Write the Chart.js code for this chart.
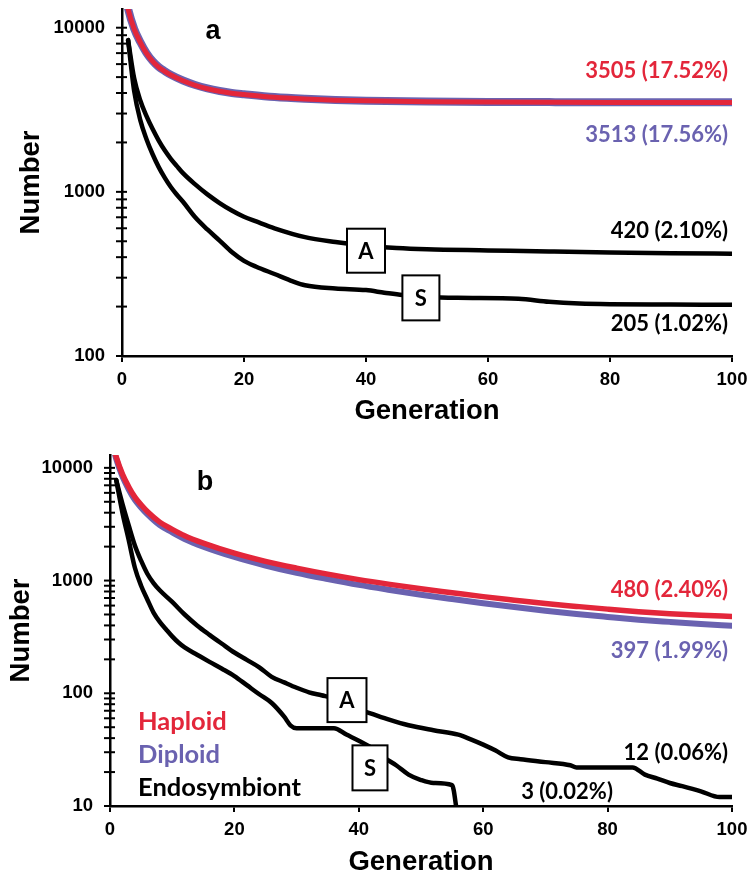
<!DOCTYPE html>
<html>
<head>
<meta charset="utf-8">
<script src="https://cdn.jsdelivr.net/npm/chart.js@4.4.1/dist/chart.umd.min.js"></script>
<style>
  html, body { margin: 0; padding: 0; background: #fff; }
  #wrap { position: relative; width: 749px; height: 876px; }
  .panel { position: absolute; left: 0; width: 749px; }
  #pa { top: 0; height: 436px; }
  #pb { top: 436px; height: 440px; }
</style>
</head>
<body>
<div id="wrap">
  <div class="panel" id="pa"><canvas id="chartA"></canvas></div>
  <div class="panel" id="pb"><canvas id="chartB"></canvas></div>
</div>
<script>
// Panel a
const genHapA = [0, 1, 2, 3, 4, 5, 6, 7, 8, 10, 12, 14, 16, 18, 20, 25, 30, 35, 40, 50, 60, 70, 80, 90, 100];
const haploidA = [20000, 13000, 9800, 8150, 7000, 6250, 5750, 5420, 5150, 4750, 4460, 4250, 4100, 3990, 3920, 3770, 3680, 3620, 3585, 3545, 3523, 3513, 3508, 3506, 3505];
const diploidA = [20000, 13050, 9840, 8180, 7025, 6272, 5770, 5438, 5167, 4765, 4474, 4263, 4112, 4001, 3931, 3780, 3690, 3629, 3594, 3554, 3531, 3521, 3516, 3514, 3513];

const genEndoA = [1, 2, 3, 4, 5, 6, 7, 8, 9, 10, 12, 14, 16, 18, 20, 22, 25, 30, 35, 40, 45, 50, 60, 70, 80, 90, 100];
const asexA = [8400, 4900, 3600, 2900, 2420, 2060, 1790, 1590, 1435, 1300, 1110, 965, 855, 770, 705, 660, 600, 530, 495, 470, 455, 447, 440, 433, 427, 423, 420];

const genSexA = [1, 2, 3, 4, 5, 6, 7, 8, 9, 10, 12, 14, 16, 18, 20, 22, 25, 28, 30, 35, 40, 43, 46, 50, 55, 65, 70, 75, 80, 90, 100];
const sexA = [8400, 4100, 2735, 2100, 1700, 1420, 1220, 1070, 960, 870, 700, 590, 505, 430, 380, 350, 316, 285, 270, 258, 252, 243, 235, 229, 226, 223, 214, 209, 207, 206, 205];

// Panel b
const genHapB = [0, 1, 2, 3, 4, 5, 6, 8, 10, 12, 15, 20, 25, 30, 35, 40, 45, 50, 55, 60, 65, 70, 75, 80, 85, 90, 95, 100];
const haploidB = [20000, 12500, 8800, 6800, 5500, 4700, 4100, 3300, 2850, 2500, 2150, 1750, 1480, 1290, 1140, 1020, 925, 845, 780, 720, 670, 625, 590, 558, 530, 508, 492, 480];
const diploidB = [20000, 12000, 8400, 6450, 5200, 4450, 3880, 3100, 2680, 2340, 2000, 1620, 1360, 1170, 1030, 915, 825, 748, 685, 630, 582, 540, 505, 476, 450, 430, 412, 397];

const genAsexB = [1, 2, 3, 4, 5, 6, 7, 8, 10, 12, 14, 16, 18, 20, 22, 24, 26, 28, 30, 32, 34, 36, 38, 40, 42, 45, 48, 52, 56, 58, 60, 62, 64, 66, 70, 74, 75, 84, 86, 88, 90, 92, 95, 98, 100];
const asexB = [7800, 4800, 3100, 2050, 1500, 1150, 950, 820, 647, 500, 400, 330, 275, 230, 198, 170, 140, 125, 112, 102, 96, 90, 80, 72, 66, 58, 52, 47, 43, 39, 35, 31, 27, 26, 24.5, 23, 22, 22, 19, 17.5, 16, 15, 13.5, 12, 12];

const genSexB = [1, 2, 3, 4, 5, 6, 7, 8, 9, 10, 11, 12, 14, 16, 18, 20, 22, 24, 26, 28, 29, 30, 36, 38, 40, 42, 44, 46, 48, 50, 52, 55, 56, 60, 70, 80, 90, 100];
const sexB = [7800, 4000, 2300, 1300, 900, 680, 520, 430, 370, 320, 282, 255, 220, 190, 165, 142, 118, 98, 82, 62, 52, 49, 49, 43, 38, 33, 27, 23, 19, 17, 16, 15.3, 8, 6, 5, 4, 3, 3];

// axis ticks
const xTicks = [0, 20, 40, 60, 80, 100];
const decadesA = [100, 1000, 10000];
const decadesB = [10, 100, 1000, 10000];
const minorSteps = [1, 2, 3, 4, 5, 6, 7, 8, 9];

const RED = '#E3263A';
const PURPLE = '#6A62B0';
const INK = '#000';
const ARIAL = '"Liberation Sans", Arial, sans-serif';
const CAL = 'Lato, "Open Sans", sans-serif';

function pts(xs, ys) {
  return xs.map((x, i) => ({ x: x, y: ys[i] }));
}

function logTicks(decades) {
  const out = [];
  decades.forEach((d, i) => {
    if (i === decades.length - 1) { out.push(d); return; }
    minorSteps.forEach(m => out.push(d * m));
  });
  return out;
}

// draws cross tick marks on the y axis, panel letter, labels, boxes, legend
const decor = {
  id: 'decor',
  afterDraw(chart, args, opts) {
    const { ctx, scales: { x, y } } = chart;
    ctx.save();
    ctx.strokeStyle = INK;
    ctx.lineWidth = 2;
    y.ticks.forEach(t => {
      const py = y.getPixelForValue(t.value);
      ctx.beginPath();
      ctx.moveTo(x.left - 6, py);
      ctx.lineTo(x.left + 5, py);
      ctx.stroke();
    });

    ctx.fillStyle = INK;
    ctx.font = 'bold 27px ' + ARIAL;
    ctx.textAlign = 'center';
    ctx.textBaseline = 'middle';
    ctx.fillText(opts.letter.text, opts.letter.px, opts.letter.py);

    ctx.font = 'bold 22px ' + CAL;
    ctx.textAlign = 'right';
    opts.notes.forEach(n => {
      ctx.fillStyle = n.color;
      ctx.fillText(n.text, x.getPixelForValue(n.x) - 4, y.getPixelForValue(n.y));
    });

    opts.boxes.forEach(b => {
      const cx = x.getPixelForValue(b.x);
      const cy = y.getPixelForValue(b.y);
      ctx.fillStyle = '#fff';
      ctx.fillRect(cx - b.w / 2, cy - b.h / 2, b.w, b.h);
      ctx.strokeStyle = INK;
      ctx.lineWidth = 2;
      ctx.strokeRect(cx - b.w / 2, cy - b.h / 2, b.w, b.h);
      ctx.fillStyle = INK;
      ctx.font = 'bold 22px ' + CAL;
      ctx.textAlign = 'center';
      ctx.fillText(b.text, cx, cy + 1);
    });

    if (opts.legend) {
      ctx.font = 'bold 25.5px ' + CAL;
      ctx.textAlign = 'left';
      opts.legend.forEach(l => {
        ctx.fillStyle = l.color;
        ctx.fillText(l.text, l.px, l.py);
      });
    }
    ctx.restore();
  }
};

function line(data, color, width) {
  return {
    data: data,
    borderColor: color,
    borderWidth: width,
    pointRadius: 0,
    fill: false,
    cubicInterpolationMode: 'monotone',
    borderCapStyle: 'round',
    borderJoinStyle: 'round'
  };
}

function makeChart(id, cfg) {
  const yTickVals = logTicks(cfg.decades);
  const titleFont = { family: ARIAL, size: 27.5, weight: 'bold', lineHeight: 1 };
  return new Chart(document.getElementById(id), {
    type: 'line',
    data: { datasets: cfg.datasets },
    options: {
      responsive: true,
      maintainAspectRatio: false,
      animation: false,
      layout: { padding: { top: cfg.top, right: 17, bottom: 0, left: 0 } },
      plugins: { legend: { display: false }, tooltip: { enabled: false }, decor: cfg.decor },
      scales: {
        x: {
          type: 'linear',
          min: 0,
          max: 100,
          afterBuildTicks: s => { s.ticks = xTicks.map(v => ({ value: v })); },
          afterFit: s => { s.height = cfg.xHeight; s.paddingLeft = 0; s.paddingRight = 0; },
          ticks: { color: INK, font: { family: ARIAL, size: 18.5, weight: 'bold' }, padding: 7, maxRotation: 0 },
          grid: { drawOnChartArea: false, color: INK, lineWidth: 2, tickLength: 6 },
          border: { color: INK, width: 2.5 },
          title: { display: true, text: 'Generation', color: INK, font: titleFont, padding: { top: 0, bottom: cfg.xTitlePad } }
        },
        y: {
          type: 'logarithmic',
          min: cfg.decades[0],
          max: 13000,
          afterBuildTicks: s => { s.ticks = yTickVals.map(v => ({ value: v })); },
          afterFit: s => { s.width = cfg.yWidth; s.paddingTop = 0; s.paddingBottom = 0; },
          ticks: {
            autoSkip: false,
            color: INK,
            padding: 17,
            font: { family: ARIAL, size: 18.5, weight: 'bold' },
            callback: v => (cfg.decades.includes(v) ? String(v) : '')
          },
          grid: { display: false, drawTicks: false },
          border: { color: INK, width: 2.5 },
          title: { display: true, text: 'Number', color: INK, font: titleFont, padding: { top: cfg.yTitlePad, bottom: 0 } }
        }
      }
    },
    plugins: [decor]
  });
}

makeChart('chartA', {
  decades: decadesA,
  top: 9,
  yWidth: 122,
  xHeight: 80,
  xTitlePad: 11,
  yTitlePad: 18,
  datasets: [
    line(pts(genHapA, haploidA), RED, 5),
    line(pts(genHapA, diploidA), PURPLE, 8),
    line(pts(genEndoA, asexA), INK, 4.5),
    line(pts(genSexA, sexA), INK, 4.5)
  ],
  decor: {
    letter: { text: 'a', px: 213, py: 32 },
    notes: [
      { text: '3505 (17.52%)', color: RED, x: 100, y: 5450 },
      { text: '3513 (17.56%)', color: PURPLE, x: 100, y: 2220 },
      { text: '420 (2.10%)', color: INK, x: 100, y: 582 },
      { text: '205 (1.02%)', color: INK, x: 100, y: 157 }
    ],
    boxes: [
      { text: 'A', x: 40, y: 438, w: 38, h: 44 },
      { text: 'S', x: 49, y: 226, w: 37, h: 45 }
    ]
  }
});

makeChart('chartB', {
  decades: decadesB,
  top: 19,
  yWidth: 110,
  xHeight: 70,
  xTitlePad: 0,
  yTitlePad: 8,
  datasets: [
    line(pts(genHapB, haploidB), RED, 5.5),
    line(pts(genHapB, diploidB), PURPLE, 6),
    line(pts(genAsexB, asexB), INK, 4.5),
    line(pts(genSexB, sexB), INK, 4.5)
  ],
  decor: {
    letter: { text: 'b', px: 205, py: 47 },
    notes: [
      { text: '480 (2.40%)', color: RED, x: 100, y: 826 },
      { text: '397 (1.99%)', color: PURPLE, x: 100, y: 238 },
      { text: '12 (0.06%)', color: INK, x: 100, y: 29.6 },
      { text: '3 (0.02%)', color: INK, x: 81.5, y: 13.3 }
    ],
    boxes: [
      { text: 'A', x: 38.1, y: 87, w: 39, h: 44 },
      { text: 'S', x: 41.8, y: 21.8, w: 35, h: 45 }
    ],
    legend: [
      { text: 'Haploid', color: RED, px: 138, py: 286 },
      { text: 'Diploid', color: PURPLE, px: 138, py: 319 },
      { text: 'Endosymbiont', color: INK, px: 138, py: 352 }
    ]
  }
});
</script>
</body>
</html>
